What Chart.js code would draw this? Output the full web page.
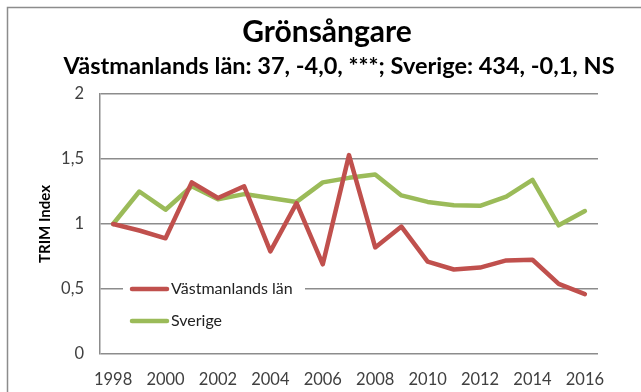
<!DOCTYPE html>
<html>
<head>
<meta charset="utf-8">
<title>Grönsångare</title>
<script src="https://cdn.jsdelivr.net/npm/chart.js@4/dist/chart.umd.min.js"></script>
<style>
  html, body { margin: 0; padding: 0; background: #ffffff; }
  canvas { display: block; }
</style>
</head>
<body>
<canvas id="trimChart" width="641" height="392"></canvas>
<script>
var years = ["1998", "1999", "2000", "2001", "2002", "2003", "2004", "2005", "2006", "2007",
             "2008", "2009", "2010", "2011", "2012", "2013", "2014", "2015", "2016"];
var vastmanland = [1.00, 0.95, 0.89, 1.32, 1.20, 1.29, 0.79, 1.16, 0.69, 1.53,
                   0.82, 0.98, 0.71, 0.65, 0.665, 0.72, 0.725, 0.54, 0.46];
var sverige = [1.00, 1.25, 1.11, 1.29, 1.19, 1.23, 1.20, 1.17, 1.32, 1.355,
               1.38, 1.22, 1.17, 1.145, 1.14, 1.21, 1.34, 0.99, 1.10];
var seriesNames = ["Västmanlands län", "Sverige"];
var seriesColors = ["#c0504d", "#9bbb59"];
var chartTitle = "Grönsångare";
var chartSubtitle = "Västmanlands län: 37, -4,0, ***; Sverige: 434, -0,1, NS";

var fontFamily = "Lato, 'Open Sans', sans-serif";
var gridColor = "#8c8c8c";

// white page, grey frame, and the two heading lines
var framePlugin = {
    id: "frame",
    beforeDraw: function(chart) {
        var ctx = chart.ctx;
        ctx.save();
        ctx.fillStyle = "#ffffff";
        ctx.fillRect(0, 0, chart.width, chart.height);
        ctx.strokeStyle = gridColor;
        ctx.lineWidth = 1.5;
        ctx.strokeRect(7.5, 7.5, chart.width + 20, chart.height + 20);

        ctx.fillStyle = "#000000";
        ctx.textAlign = "center";
        ctx.textBaseline = "alphabetic";
        ctx.font = "bold 30px " + fontFamily;
        ctx.fillText(chartTitle, 327, 42);
        ctx.font = "bold 23.5px " + fontFamily;
        ctx.fillText(chartSubtitle, 339, 74);
        ctx.restore();
    }
};

// legend sits inside the plot, over the 0,5 gridline
var insideLegend = {
    id: "insideLegend",
    afterDatasetsDraw: function(chart) {
        var ctx = chart.ctx;
        var area = chart.chartArea;
        var yScale = chart.scales.y;
        var left = area.left + 23;
        var firstRow = yScale.getPixelForValue(0.5);
        var rowGap = 32;
        ctx.save();
        ctx.fillStyle = "#ffffff";
        ctx.fillRect(left, firstRow - 14, 182, rowGap + 28);
        ctx.font = "16px " + fontFamily;
        ctx.textBaseline = "middle";
        chart.data.datasets.forEach(function(ds, i) {
            var y = firstRow + i * rowGap;
            ctx.strokeStyle = ds.borderColor;
            ctx.lineWidth = 4.5;
            ctx.lineCap = "round";
            ctx.beginPath();
            ctx.moveTo(left + 9, y);
            ctx.lineTo(left + 44, y);
            ctx.stroke();
            ctx.fillStyle = "#222222";
            ctx.fillText(ds.label, left + 48, y);
        });
        ctx.restore();
    }
};

var ctx = document.getElementById("trimChart").getContext("2d");

new Chart(ctx, {
    type: "line",
    data: {
        labels: years,
        datasets: [{
            label: seriesNames[0],
            data: vastmanland,
            borderColor: seriesColors[0],
            backgroundColor: seriesColors[0],
            borderWidth: 4.5,
            borderJoinStyle: "round",
            borderCapStyle: "round",
            pointRadius: 0,
            tension: 0,
            fill: false
        }, {
            label: seriesNames[1],
            data: sverige,
            borderColor: seriesColors[1],
            backgroundColor: seriesColors[1],
            borderWidth: 4.5,
            borderJoinStyle: "round",
            borderCapStyle: "round",
            pointRadius: 0,
            tension: 0,
            fill: false
        }]
    },
    options: {
        responsive: false,
        animation: false,
        layout: {
            padding: { top: 94, left: 0, right: 43, bottom: 0 }
        },
        plugins: {
            legend: { display: false },
            tooltip: { enabled: false },
            title: { display: false }
        },
        scales: {
            x: {
                offset: true,
                grid: { display: false, drawTicks: false },
                border: { display: false },
                ticks: {
                    autoSkip: false,
                    maxRotation: 0,
                    padding: 16,
                    color: "#404040",
                    font: { family: fontFamily, size: 16.5 },
                    callback: function(value, index) {
                        return index % 2 === 0 ? this.getLabelForValue(value) : "";
                    }
                },
                afterFit: function(scale) {
                    scale.height = 38;
                }
            },
            y: {
                min: 0,
                max: 2,
                grid: { color: gridColor, lineWidth: 1.5, drawTicks: false },
                border: { display: true, color: gridColor, width: 1.5 },
                ticks: {
                    stepSize: 0.5,
                    padding: 16,
                    color: "#404040",
                    font: { family: fontFamily, size: 16.5 },
                    callback: function(value) {
                        return String(value).replace(".", ",");
                    }
                },
                title: {
                    display: true,
                    text: "TRIM Index",
                    color: "#000000",
                    font: { family: fontFamily, size: 15, weight: "bold", lineHeight: 1.2 },
                    padding: { top: 36, bottom: 0 }
                },
                afterFit: function(scale) {
                    scale.width = 100;
                }
            }
        }
    },
    plugins: [framePlugin, insideLegend]
});
</script>
</body>
</html>
